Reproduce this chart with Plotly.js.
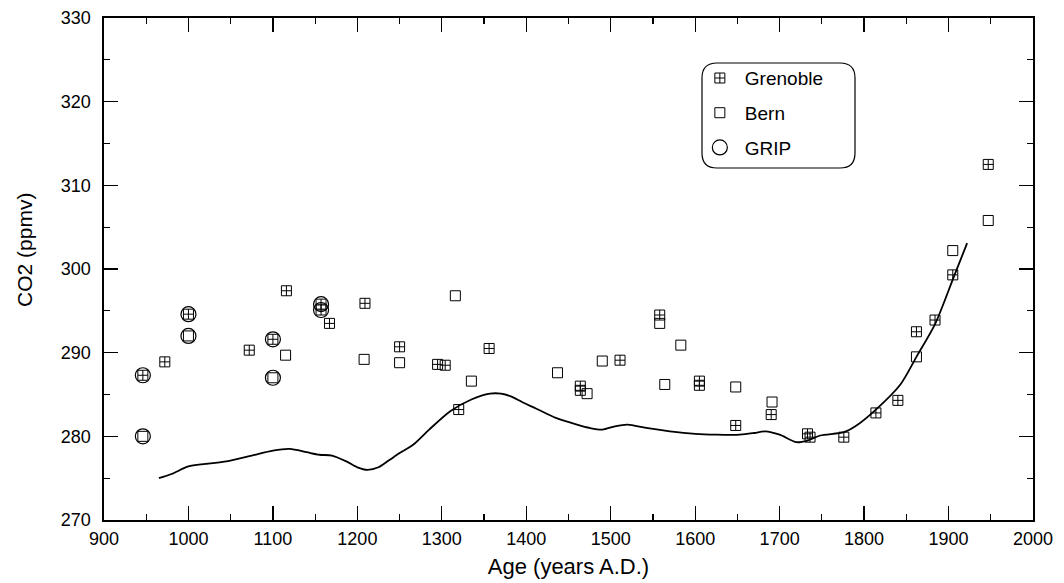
<!DOCTYPE html>
<html><head><meta charset="utf-8">
<script src="https://cdn.plot.ly/plotly-3.0.1.min.js"></script>
<style>html,body{margin:0;padding:0;background:#fff;} #chart{width:1064px;height:583px;}</style>
</head><body><div id="chart"></div>
<script>
// Grenoble measurements (year A.D., CO2 ppmv)
const grenobleYear = [946, 972, 1000, 1072, 1100, 1116, 1157, 1157, 1167, 1209, 1250, 1295, 1304, 1320, 1356, 1464, 1464, 1511, 1558, 1605, 1605, 1648, 1690, 1733, 1736, 1776, 1814, 1840, 1862, 1884, 1905, 1947];
const grenobleCO2  = [287.3, 288.9, 294.6, 290.3, 291.6, 297.4, 295.8, 295.1, 293.5, 295.9, 290.7, 288.6, 288.5, 283.2, 290.5, 286.0, 285.5, 289.1, 294.5, 286.6, 286.1, 281.3, 282.6, 280.3, 279.9, 279.9, 282.8, 284.3, 292.5, 293.9, 299.3, 312.5];

// Bern measurements
const bernYear = [946, 1000, 1100, 1115, 1208, 1250, 1316, 1335, 1437, 1472, 1490, 1558, 1564, 1583, 1648, 1691, 1862, 1905, 1947];
const bernCO2  = [280.0, 292.0, 287.0, 289.7, 289.2, 288.8, 296.8, 286.6, 287.6, 285.1, 289.0, 293.5, 286.2, 290.9, 285.9, 284.1, 289.5, 302.2, 305.8];

// GRIP core samples
const gripYear = [946, 946, 1000, 1000, 1100, 1100, 1157, 1157];
const gripCO2  = [287.3, 280.0, 294.6, 292.0, 291.6, 287.0, 295.8, 295.1];

// Smoothed curve
const curveYear = [965, 980, 1000, 1020, 1045, 1075, 1100, 1120, 1140, 1155, 1170, 1187, 1200, 1212, 1225, 1237, 1250, 1266, 1285, 1310, 1335, 1357, 1370, 1381, 1395, 1412, 1435, 1460, 1475, 1490, 1505, 1520, 1542, 1570, 1600, 1625, 1653, 1670, 1683, 1700, 1720, 1733, 1748, 1776, 1791, 1814, 1843, 1862, 1884, 1906, 1922];
const curveCO2  = [275.0, 275.5, 276.4, 276.7, 277.0, 277.7, 278.3, 278.5, 278.1, 277.8, 277.7, 277.0, 276.3, 276.0, 276.3, 277.1, 278.0, 279.0, 280.8, 283.0, 284.4, 285.1, 285.1, 284.8, 284.1, 283.3, 282.2, 281.4, 281.0, 280.8, 281.2, 281.4, 281.0, 280.6, 280.3, 280.2, 280.2, 280.4, 280.6, 280.2, 279.3, 279.5, 280.1, 280.5, 281.3, 283.2, 286.2, 289.5, 293.4, 299.0, 303.1];

const xTicks = [900, 1000, 1100, 1200, 1300, 1400, 1500, 1600, 1700, 1800, 1900, 2000];
const yTicks = [270, 280, 290, 300, 310, 320, 330];

const FONT = '"Liberation Sans", Arial, Helvetica, sans-serif';

const traces = [
  {x: grenobleYear, y: grenobleCO2, name: 'Grenoble', mode: 'markers', type: 'scatter', legendgroup: 'g',
   marker: {symbol: 'square-cross-open', size: 10, color: '#000', line: {width: 1, color: '#000'}}},
  {x: bernYear, y: bernCO2, name: 'Bern', mode: 'markers', type: 'scatter', legendgroup: 'b',
   marker: {symbol: 'square-open', size: 10, color: '#000', line: {width: 1, color: '#000'}}},
  {x: gripYear, y: gripCO2, name: 'GRIP', mode: 'markers', type: 'scatter', legendgroup: 'r',
   marker: {symbol: 'circle-open', size: 15, color: '#000', line: {width: 1.2, color: '#000'}}},
  {x: curveYear, y: curveCO2, name: 'curve', mode: 'lines', type: 'scatter', showlegend: false,
   line: {color: '#000', width: 1.8, shape: 'spline', smoothing: 0.8}}
];

// rounded legend box (paper coords)
const bx0 = 0.6437, bx1 = 0.8084, by0 = 0.7012, by1 = 0.9104, rx = 0.0161, ry = 0.0299;
const boxPath = `M ${bx0+rx} ${by1} L ${bx1-rx} ${by1} Q ${bx1} ${by1} ${bx1} ${by1-ry} L ${bx1} ${by0+ry} Q ${bx1} ${by0} ${bx1-rx} ${by0} L ${bx0+rx} ${by0} Q ${bx0} ${by0} ${bx0} ${by0+ry} L ${bx0} ${by1-ry} Q ${bx0} ${by1} ${bx0+rx} ${by1} Z`;

const layout = {
  width: 1064, height: 583,
  margin: {l: 104, r: 31, t: 18, b: 63},
  paper_bgcolor: '#fff', plot_bgcolor: '#fff',
  font: {family: FONT, color: '#000', size: 18},
  showlegend: true,
  legend: {x: 0.636, y: 0.918, xanchor: 'left', yanchor: 'top', bgcolor: 'rgba(0,0,0,0)',
           borderwidth: 0, font: {size: 19, family: FONT}, itemwidth: 40, traceorder: 'grouped', tracegroupgap: 7},
  xaxis: {
    range: [900, 2000], tickvals: xTicks, ticktext: xTicks.map(String),
    ticks: 'inside', ticklen: 14, tickwidth: 1.2, tickcolor: '#000',
    minor: {dtick: 50, tick0: 900, ticks: 'inside', ticklen: 6, tickwidth: 1.2, tickcolor: '#000'},
    showline: true, linewidth: 1.6, linecolor: '#000', mirror: 'ticks',
    showgrid: false, zeroline: false, ticklabelstandoff: 2,
    tickfont: {size: 18},
    title: {text: 'Age (years A.D.)', font: {size: 22}, standoff: 10}
  },
  yaxis: {
    range: [270, 330], tickvals: yTicks, ticktext: yTicks.map(String),
    ticks: 'inside', ticklen: 14, tickwidth: 1.2, tickcolor: '#000',
    minor: {dtick: 5, tick0: 270, ticks: 'inside', ticklen: 6, tickwidth: 1.2, tickcolor: '#000'},
    showline: true, linewidth: 1.6, linecolor: '#000', mirror: 'ticks',
    showgrid: false, zeroline: false, ticklabelstandoff: 8,
    tickfont: {size: 18}
  },
  annotations: [{text: 'CO2 (ppmv)', xref: 'paper', yref: 'paper', x: 0, y: 0.538, xshift: -79,
                 xanchor: 'center', yanchor: 'middle', textangle: -90, showarrow: false,
                 font: {size: 21, family: FONT, color: '#000'}}],
  shapes: [{type: 'path', xref: 'paper', yref: 'paper', path: boxPath, line: {color: '#000', width: 1.2}}]
};

Plotly.newPlot('chart', traces, layout, {displayModeBar: false, staticPlot: true});
</script></body></html>
